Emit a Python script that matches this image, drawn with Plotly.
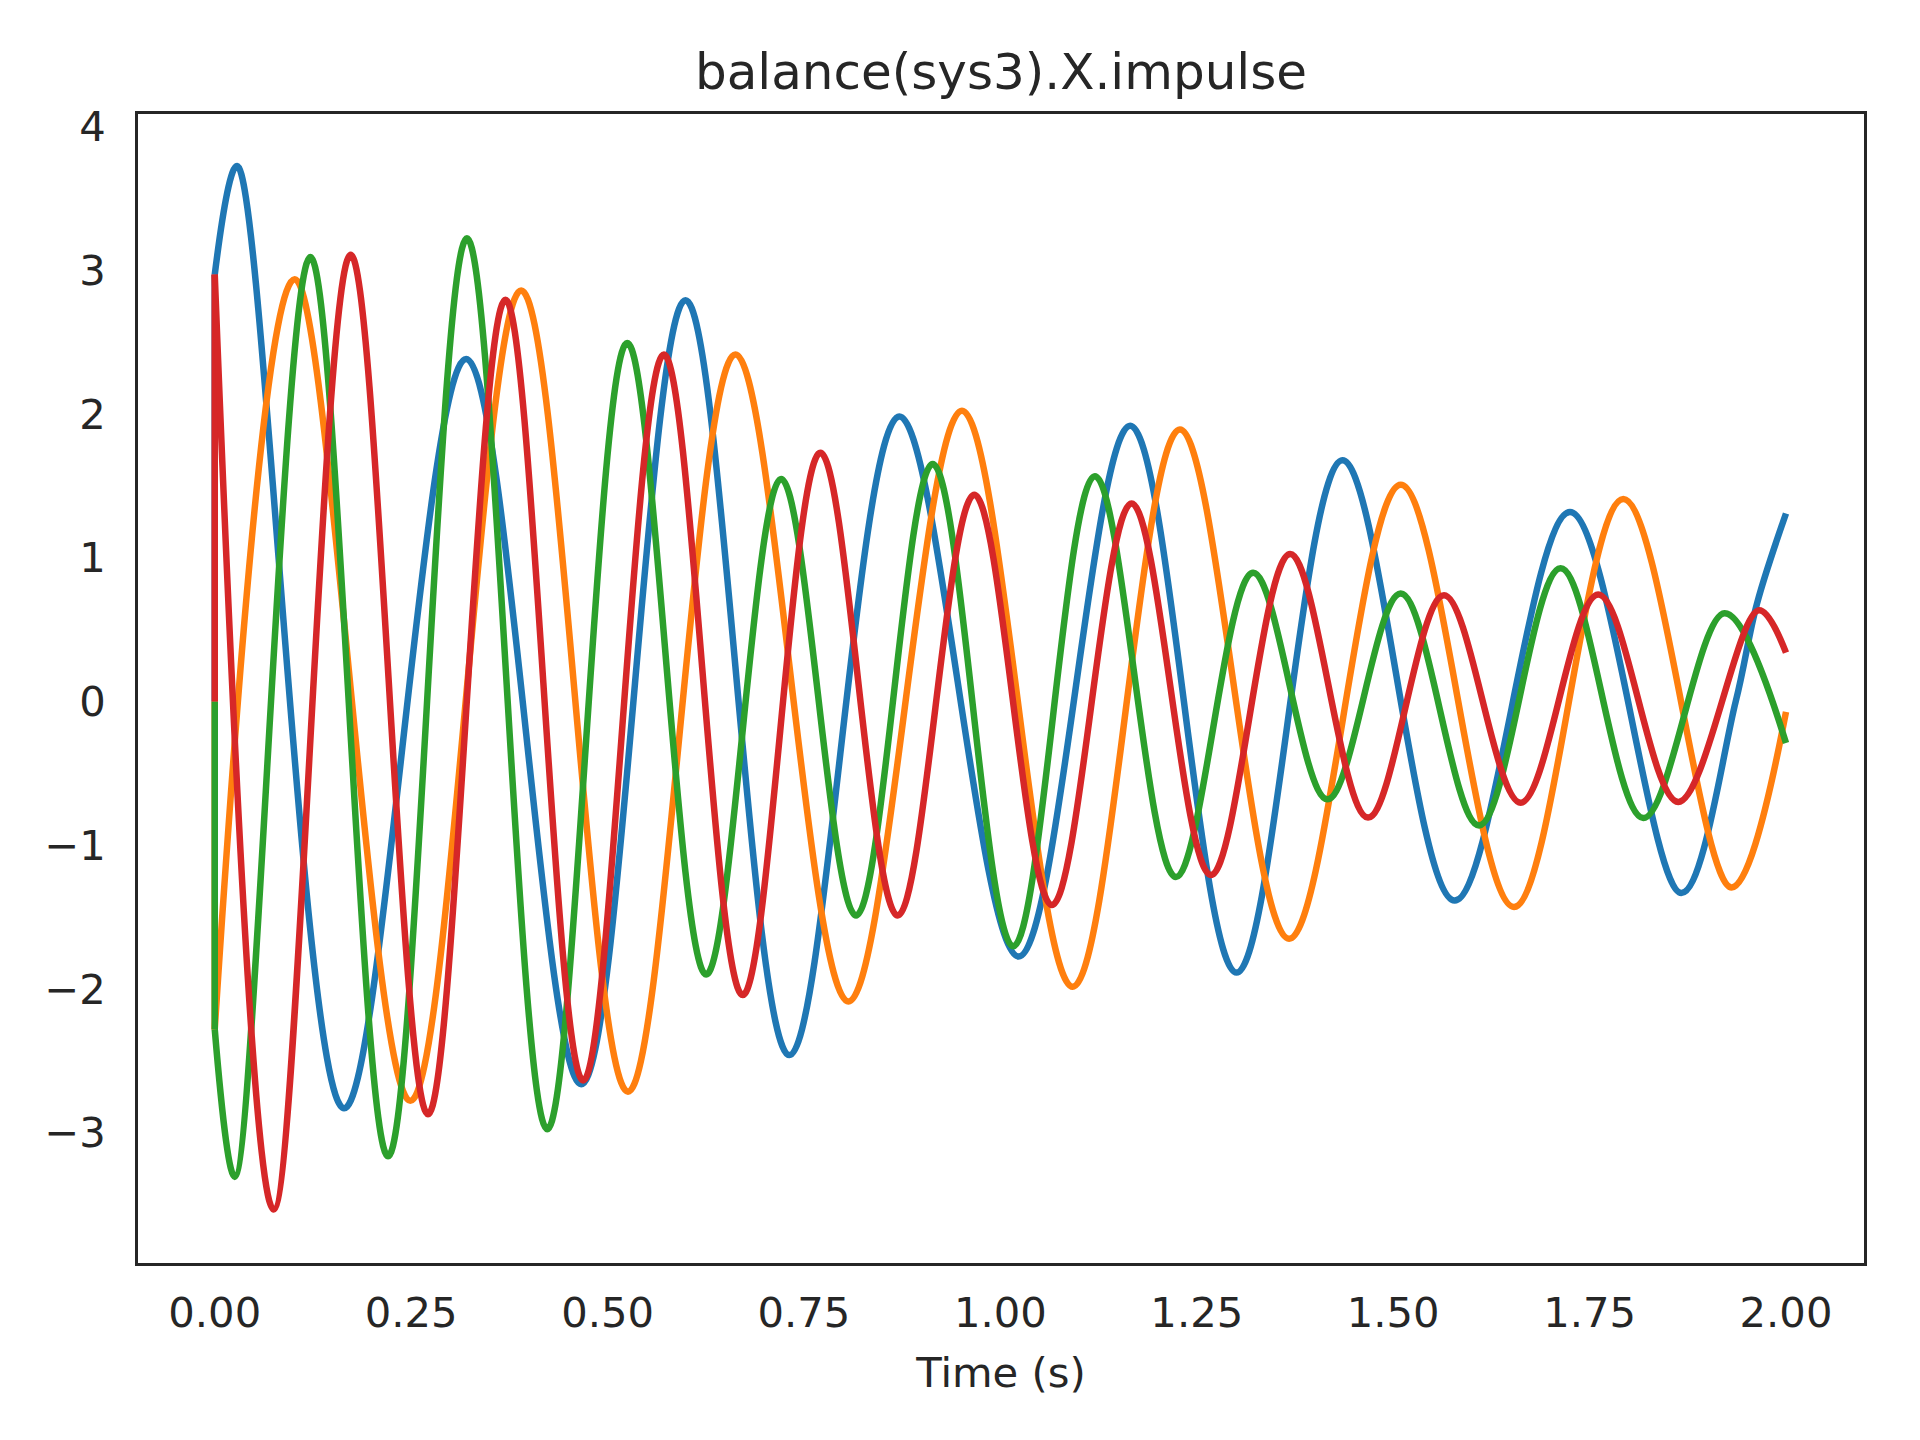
import plotly.graph_objects as go

# ---- data (extrema + a few shape points) ----
blue_t = [0.0, 0.0284, 0.1646, 0.320, 0.4665, 0.5992, 0.7315, 0.8714, 1.0233,
          1.1653, 1.3006, 1.4354, 1.5783, 1.725, 1.8667, 1.936, 1.963, 2.0]
blue_v = [2.97, 3.726, -2.829, 2.383, -2.662, 2.792, -2.459, 1.983, -1.773,
          1.918, -1.885, 1.678, -1.384, 1.318, -1.332, 0.0, 0.68, 1.308]

orange_t = [0.0, 0.1018, 0.249, 0.390, 0.526, 0.6628, 0.8066, 0.9511, 1.092,
            1.2285, 1.3675, 1.5096, 1.6538, 1.7929, 1.9307, 2.0]
orange_v = [-2.28, 2.938, -2.777, 2.86, -2.714, 2.414, -2.086, 2.023, -1.984,
            1.892, -1.65, 1.509, -1.428, 1.409, -1.293, -0.072]

green_t = [0.0, 0.0255, 0.1217, 0.2206, 0.321, 0.4232, 0.525, 0.6255, 0.7209,
           0.8163, 0.9139, 1.0164, 1.1203, 1.2234, 1.3217, 1.4163, 1.5096,
           1.6093, 1.7131, 1.8184, 1.9218, 2.0]
green_v = [-2.28, -3.306, 3.092, -3.163, 3.222, -2.975, 2.495, -1.898, 1.548,
           -1.488, 1.652, -1.702, 1.568, -1.22, 0.896, -0.68, 0.752,
           -0.862, 0.927, -0.81, 0.614, -0.288]

red_t = [0.0, 0.075, 0.173, 0.2714, 0.370, 0.469, 0.5717, 0.672, 0.7709,
         0.8693, 0.9668, 1.0656, 1.167, 1.268, 1.3688, 1.468, 1.5647,
         1.6623, 1.761, 1.8628, 1.9654, 2.0]
red_v = [2.97, -3.533, 3.108, -2.871, 2.795, -2.636, 2.414, -2.041, 1.73,
         -1.488, 1.438, -1.415, 1.378, -1.206, 1.026, -0.807, 0.739,
         -0.703, 0.744, -0.698, 0.635, 0.34]

# value at t = 0 before the impulse jump
start_t = [0.0, 0.0]
start_v = 0.0

x_ticks = [0.0, 0.25, 0.5, 0.75, 1.0, 1.25, 1.5, 1.75, 2.0]
y_ticks = [-3, -2, -1, 0, 1, 2, 3, 4]

series = [
    ("blue", blue_t, blue_v, "#1f77b4"),
    ("orange", orange_t, orange_v, "#ff7f0e"),
    ("green", green_t, green_v, "#2ca02c"),
    ("red", red_t, red_v, "#d62728"),
]

LW = 6.5
fig = go.Figure()
for name, t, v, col in series:
    fig.add_trace(go.Scatter(x=start_t, y=[start_v, v[0]], mode="lines",
                             line=dict(color=col, width=LW), showlegend=False,
                             hoverinfo="skip"))
    fig.add_trace(go.Scatter(x=t, y=v, mode="lines", name=name,
                             line=dict(color=col, width=LW, shape="spline", smoothing=1),
                             showlegend=False))

TXT = "#262626"
FONT = "DejaVu Sans"
fig.update_layout(
    width=1920, height=1440,
    margin=dict(l=137.5, r=55.5, t=113.5, b=176.5),
    paper_bgcolor="white", plot_bgcolor="white",
    font=dict(family=FONT, color=TXT, size=42),
    title=dict(text="balance(sys3).X.impulse", x=0.5, xref="paper",
               y=1 - 71 / 1440, yref="container", yanchor="middle", xanchor="center",
               font=dict(family=FONT, size=50, color=TXT)),
    showlegend=False,
)
fig.update_xaxes(range=[-0.0977, 2.0993], tickvals=x_ticks, tickformat=".2f",
                 showgrid=False, zeroline=False, showline=True, mirror=True,
                 linecolor=TXT, linewidth=2.6, ticks="", ticklabelstandoff=11,
                 tickfont=dict(family=FONT, size=41.7, color=TXT),
                 title=dict(text="Time (s)", standoff=22,
                            font=dict(family=FONT, size=41.7, color=TXT)))
fig.update_yaxes(range=[-3.905, 4.087], tickvals=y_ticks, tickformat="d",
                 showgrid=False, zeroline=False, showline=True, mirror=True,
                 linecolor=TXT, linewidth=2.6, ticks="", ticklabelstandoff=21,
                 tickfont=dict(family=FONT, size=41.7, color=TXT))

fig.write_html("out.html")
